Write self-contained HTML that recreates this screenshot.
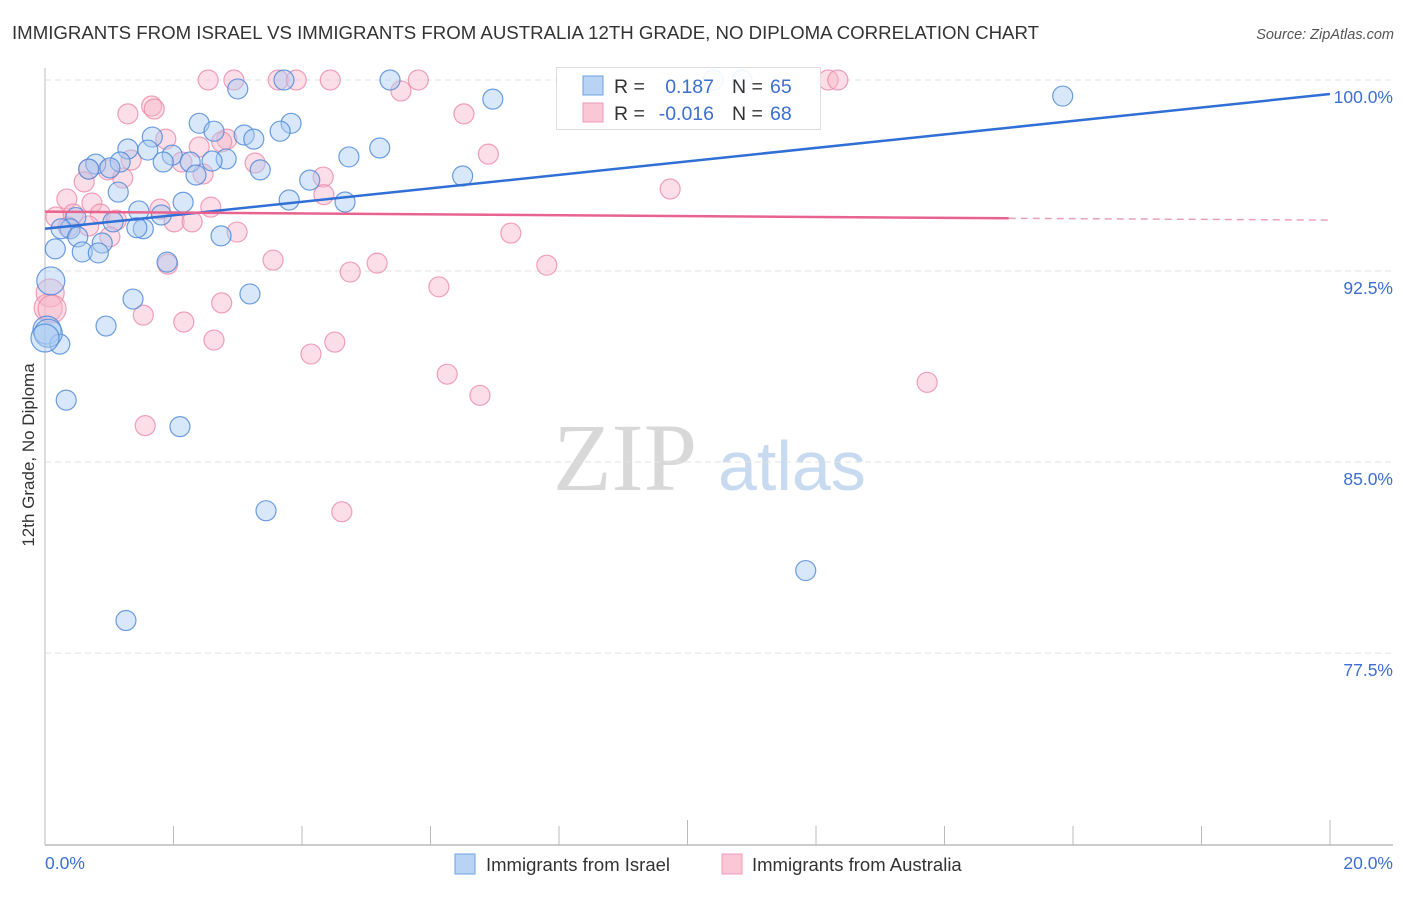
<!DOCTYPE html>
<html><head><meta charset="utf-8"><style>
body{margin:0;background:#fff;font-family:"Liberation Sans",sans-serif;}
</style></head><body>
<svg id="chart" width="1406" height="892" viewBox="0 0 1406 892" xmlns="http://www.w3.org/2000/svg" font-family="Liberation Sans, sans-serif">
<text x="12" y="39" font-size="18.3" fill="#333" textLength="1027" lengthAdjust="spacingAndGlyphs">IMMIGRANTS FROM ISRAEL VS IMMIGRANTS FROM AUSTRALIA 12TH GRADE, NO DIPLOMA CORRELATION CHART</text>
<text x="1394" y="39" font-size="14.5" fill="#555" text-anchor="end" font-style="italic">Source: ZipAtlas.com</text>
<g><text x="553" y="490" font-size="96" fill="#d8d8d8" style="font-family:'Liberation Serif',serif">ZIP</text><text x="718" y="490" font-size="70" fill="#c8daf0">atlas</text></g>
<g id="grid"></g><g id="axes"></g><g id="pts"></g><g id="trend"></g>
<text transform="translate(34,455) rotate(-90)" font-size="17" fill="#333" text-anchor="middle">12th Grade, No Diploma</text>
<g>
<rect x="556.5" y="67.5" width="264" height="62" fill="#fff" fill-opacity="0.9" stroke="#ddd"/>
<rect x="583" y="76" width="20" height="19" fill="#b9d3f5" stroke="#6fa0e0"/>
<rect x="583" y="103" width="20" height="19" fill="#fac7d6" stroke="#ee99b4"/>
<text x="614" y="93" font-size="19.5" fill="#333">R =</text><text x="714" y="93" font-size="19.5" fill="#3b6fd0" text-anchor="end">0.187</text>
<text x="732" y="93" font-size="19.5" fill="#333">N =</text><text x="770" y="93" font-size="19.5" fill="#3b6fd0">65</text>
<text x="614" y="120" font-size="19.5" fill="#333">R =</text><text x="714" y="120" font-size="19.5" fill="#3b6fd0" text-anchor="end">-0.016</text>
<text x="732" y="120" font-size="19.5" fill="#333">N =</text><text x="770" y="120" font-size="19.5" fill="#3b6fd0">68</text>
</g>
<g>
<rect x="455" y="854" width="20" height="20" fill="#b9d3f5" stroke="#6fa0e0"/>
<text x="486" y="871" font-size="18.5" fill="#333">Immigrants from Israel</text>
<rect x="722" y="854" width="20" height="20" fill="#fac7d6" stroke="#ee99b4"/>
<text x="752" y="871" font-size="18.5" fill="#333">Immigrants from Australia</text>
</g>
</svg>
<script>
const yTicks=[100,92.5,85,77.5];
const yTickLabels=["100.0%","92.5%","85.0%","77.5%"];
const xTickLabels=["0.0%","20.0%"];
const israelX=[3.0,3.72,5.37,10.4,10.85,6.97,15.84,2.4,3.83,2.63,3.66,1.67,3.1,3.25,1.29,1.6,5.21,1.98,2.82,4.73,2.6,1.84,2.26,0.79,1.17,1.01,3.35,2.35,6.5,4.12,0.68,1.14,2.15,3.8,4.67,1.46,1.81,0.48,1.06,1.53,1.43,0.39,0.25,0.51,2.74,0.89,0.16,0.58,0.83,1.9,0.09,3.19,1.37,0.95,0.03,0.23,0.33,2.1,3.44,11.84,1.26,0.05,0.0];
const israelY=[99.65,100,100,100,100,99.25,99.37,98.3,98.3,97.99,97.99,97.76,97.84,97.68,97.29,97.25,97.33,97.05,96.9,96.98,96.82,96.78,96.78,96.7,96.78,96.55,96.47,96.27,96.23,96.07,96.5,95.6,95.2,95.29,95.21,94.86,94.7,94.6,94.43,94.16,94.2,94.16,94.16,93.84,93.88,93.6,93.37,93.25,93.21,92.85,92.11,91.6,91.4,90.34,90.18,89.63,87.43,86.39,83.09,80.74,78.78,90.06,89.87];
const ausX=[2.54,2.94,3.63,3.91,4.44,5.81,12.19,12.34,5.54,1.66,1.7,1.29,6.52,1.88,2.83,2.75,6.9,2.4,2.13,1.34,0.68,3.27,0.98,4.33,2.46,1.21,0.61,9.73,4.34,0.34,0.73,2.58,1.79,0.17,0.44,0.86,1.11,2.01,2.29,0.68,1.01,0.36,2.99,7.25,1.91,3.55,5.17,4.75,7.81,6.13,2.75,0.08,1.53,2.16,2.63,4.51,4.14,6.26,6.77,13.73,1.56,4.62,0.05,0.11];
const ausY=[100,100,100,100,100,100,100,100,99.57,98.98,98.86,98.67,98.67,97.68,97.68,97.57,97.09,97.37,96.78,96.86,96.5,96.74,96.47,96.19,96.31,96.15,96,95.72,95.5,95.33,95.17,95.01,94.93,94.62,94.74,94.74,94.5,94.43,94.43,94.27,93.84,94.23,94.03,93.99,92.77,92.93,92.81,92.46,92.73,91.88,91.25,91.64,90.77,90.5,89.79,89.71,89.24,88.45,87.62,88.13,86.43,83.05,91.05,91.01];
const israelTrend=[94.16,99.45]; // y at x=0 and x=20
const ausTrend=[94.83,94.57];    // y at x=0 and x=15
const ausTrendEnd=[15,20]; const ausTrendDashEnd=94.5;
const NS="http://www.w3.org/2000/svg";
const sx=v=>45+v*64.25, sy=v=>80+(100-v)*25.47;
function mk(tag,attrs,parent){const e=document.createElementNS(NS,tag);for(const k in attrs)e.setAttribute(k,attrs[k]);parent.appendChild(e);return e;}
const grid=document.getElementById('grid'),axes=document.getElementById('axes'),pts=document.getElementById('pts'),tr=document.getElementById('trend');
yTicks.forEach((t,i)=>{
 const l=mk('line',{x1:45,x2:1393,y1:sy(t),y2:sy(t),stroke:'#e2e2e2','stroke-dasharray':'6,4'},grid);
 
 
 const tx=mk('text',{x:1393,y:sy(t)+23,'font-size':17.5,fill:'#3b6fd0','text-anchor':'end'},axes);tx.textContent=yTickLabels[i];
 
 
});
const ax=mk('line',{x1:45,x2:45,y1:68,y2:845,stroke:'#bbb'},axes);


const bx=mk('line',{x1:45,x2:1393,y1:845,y2:845,stroke:'#bbb','stroke-width':1.5},axes);


for(let i=0;i<=10;i++){const t=mk('line',{x1:sx(i*2),x2:sx(i*2),y1:(i==5||i==10)?820:826,y2:845,stroke:'#bbb'},axes);
 
 }
[[0,'start'],[20,'end']].forEach((p,i)=>{const t=mk('text',{x:i?1393:45,y:869,'font-size':17.5,fill:'#3b6fd0','text-anchor':p[1]},axes);t.textContent=xTickLabels[i];
 
 });
function series(X,Y,fill,stroke,name){X.forEach((x,i)=>{const r=(x<0.12)?14:10;
 const c=mk('circle',{cx:sx(x),cy:sy(Y[i]),r:r,fill:fill,'fill-opacity':0.45,stroke:stroke,'stroke-width':1.2,'stroke-opacity':0.8},pts);
 
 });}
series(ausX,ausY,'#f7b6c9','#ec8aa9','australia-point');
series(israelX,israelY,'#a9c9f2','#4a86d8','israel-point');
const bl=mk('line',{x1:sx(0),y1:sy(israelTrend[0]),x2:sx(20),y2:sy(israelTrend[1]),stroke:'#2f6fd6','stroke-width':2.5},tr);


const pl=mk('line',{x1:sx(0),y1:sy(ausTrend[0]),x2:sx(ausTrendEnd[0]),y2:sy(ausTrend[1]),stroke:'#e8648e','stroke-width':2.5},tr);


const pd=mk('line',{x1:sx(ausTrendEnd[0]),y1:sy(ausTrend[1]),x2:sx(ausTrendEnd[1]),y2:sy(ausTrendDashEnd),stroke:'#e8a0b8','stroke-width':1.5,'stroke-dasharray':'7,5'},tr);


</script>
</body></html>
